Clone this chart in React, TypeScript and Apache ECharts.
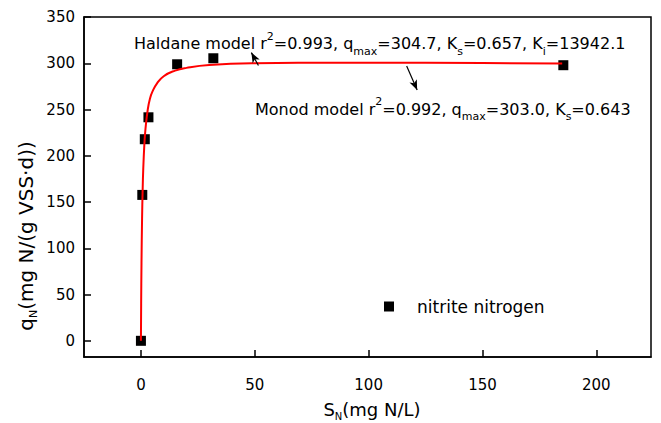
import React, { useEffect, useRef } from "react";
import * as echarts from "echarts";

// Measured data points (S_N in mg N/L, q_N in mg N/(g VSS·d))
const sValues = [0, 0.6, 1.7, 3.3, 15.9, 31.8, 185.5];
const qValues = [0, 157.7, 217.9, 241.6, 298.9, 305.4, 297.9];

// Fitted curve
const curveS = [0, 0.1, 0.25, 0.5, 0.75, 1, 1.5, 2, 3, 4, 5, 7, 10, 15, 20, 30, 50, 75, 100, 150, 185];
const curveQ = [0, 40, 84, 132, 162, 184, 212, 229, 250, 262, 269, 278, 286, 292, 295, 298, 300, 300.5, 300.6, 300.2, 299.7];

// Ticks
const xTicks = [0, 50, 100, 150, 200];
const yTicks = [0, 50, 100, 150, 200, 250, 300, 350];

// Arrow annotations [tail, head] in data coordinates
const haldaneArrow = [[51.6, 297.5], [48.5, 311.5]];
const monodArrow = [[116.7, 297.0], [121.3, 271]];

const seriesName = "nitrite nitrogen";
const FONT = "DejaVu Sans";

const richStyles = {
  m: { fontSize: 16, fontFamily: FONT, lineHeight: 26, color: "#000" },
  sup: { fontSize: 11, fontFamily: FONT, lineHeight: 11, verticalAlign: "top", color: "#000" },
  sub: { fontSize: 11, fontFamily: FONT, lineHeight: 11, verticalAlign: "bottom", color: "#000" },
};

export default function App() {
  const ref = useRef<HTMLDivElement>(null);
  useEffect(() => {
    document.body.style.margin = "0";
    const chart = echarts.init(ref.current!, null, { renderer: "svg" });
    const scatterData = sValues.map((s, i) => [s, qValues[i]]);
    const curveData = curveS.map((s, i) => [s, curveQ[i]]);
    chart.setOption({
      animation: false,
      backgroundColor: "#fff",
      grid: {
        left: 84,
        right: 10,
        top: 17,
        bottom: 66,
        show: true,
        borderColor: "#000",
        borderWidth: 1.5,
      },
      xAxis: {
        type: "value",
        min: -25,
        max: 224,
        splitLine: { show: false },
        axisLine: { show: true, onZero: false, lineStyle: { color: "#000", width: 1.5 } },
        axisTick: { show: true, inside: true, length: 7, customValues: xTicks, lineStyle: { color: "#000", width: 1.5 } },
        axisLabel: { customValues: xTicks, margin: 20, fontFamily: FONT, fontSize: 15, color: "#000" },
      },
      yAxis: {
        type: "value",
        min: -17.5,
        max: 350,
        splitLine: { show: false },
        axisLine: { show: true, onZero: false, lineStyle: { color: "#000", width: 1.5 } },
        axisTick: { show: true, inside: true, length: 7, customValues: yTicks, lineStyle: { color: "#000", width: 1.5 } },
        axisLabel: { customValues: yTicks, margin: 9, fontFamily: FONT, fontSize: 15, color: "#000" },
      },
      legend: {
        data: [seriesName],
        left: 384,
        top: 298,
        padding: 0,
        icon: "rect",
        itemWidth: 10,
        itemHeight: 10,
        itemStyle: { opacity: 1, color: "#000" },
        textStyle: { fontFamily: FONT, fontSize: 17, color: "#000", padding: [0, 0, 0, 18] },
      },
      series: [
        {
          name: seriesName,
          type: "scatter",
          symbol: "rect",
          symbolSize: 10,
          itemStyle: { color: "#000", opacity: 1 },
          data: scatterData,
          z: 2,
        },
        {
          name: "fit",
          type: "line",
          smooth: true,
          showSymbol: false,
          symbol: "none",
          lineStyle: { color: "#ff0000", width: 2 },
          data: curveData,
          z: 3,
          markLine: {
            silent: true,
            symbol: ["none", "arrow"],
            symbolSize: [6, 10],
            label: { show: false },
            lineStyle: { color: "#000", width: 1.2, type: "solid" },
            data: [
              [{ coord: haldaneArrow[0] }, { coord: haldaneArrow[1] }],
              [{ coord: monodArrow[0] }, { coord: monodArrow[1] }],
            ],
          },
        },
      ],
      graphic: [
        {
          type: "text",
          left: 134,
          top: 43.5 - 13,
          style: {
            text: "{m|Haldane model r}{sup|2}{m|=0.993, q}{sub|max}{m|=304.7, K}{sub|s}{m|=0.657, K}{sub|i}{m|=13942.1}",
            rich: richStyles,
          },
        },
        {
          type: "text",
          left: 255,
          top: 109 - 13,
          style: {
            text: "{m|Monod model r}{sup|2}{m|=0.992, q}{sub|max}{m|=303.0, K}{sub|s}{m|=0.643}",
            rich: richStyles,
          },
        },
        {
          type: "text",
          x: 372,
          y: 409,
          style: {
            text: "{t|S}{s|N}{t|(mg N/L)}",
            align: "center",
            verticalAlign: "middle",
            rich: {
              t: { fontSize: 18, fontFamily: FONT, lineHeight: 24, color: "#000" },
              s: { fontSize: 10, fontFamily: FONT, lineHeight: 10, verticalAlign: "bottom", color: "#000" },
            },
          },
        },
        {
          type: "text",
          x: 26,
          y: 236,
          rotation: Math.PI / 2,
          style: {
            text: "{t|q}{s|N}{t|(mg N/(g VSS·d))}",
            align: "center",
            verticalAlign: "middle",
            rich: {
              t: { fontSize: 20, fontFamily: FONT, lineHeight: 26, color: "#000" },
              s: { fontSize: 11, fontFamily: FONT, lineHeight: 11, verticalAlign: "bottom", color: "#000" },
            },
          },
        },
      ],
    });
    return () => chart.dispose();
  }, []);
  return <div ref={ref} style={{ width: 661, height: 423 }} />;
}
